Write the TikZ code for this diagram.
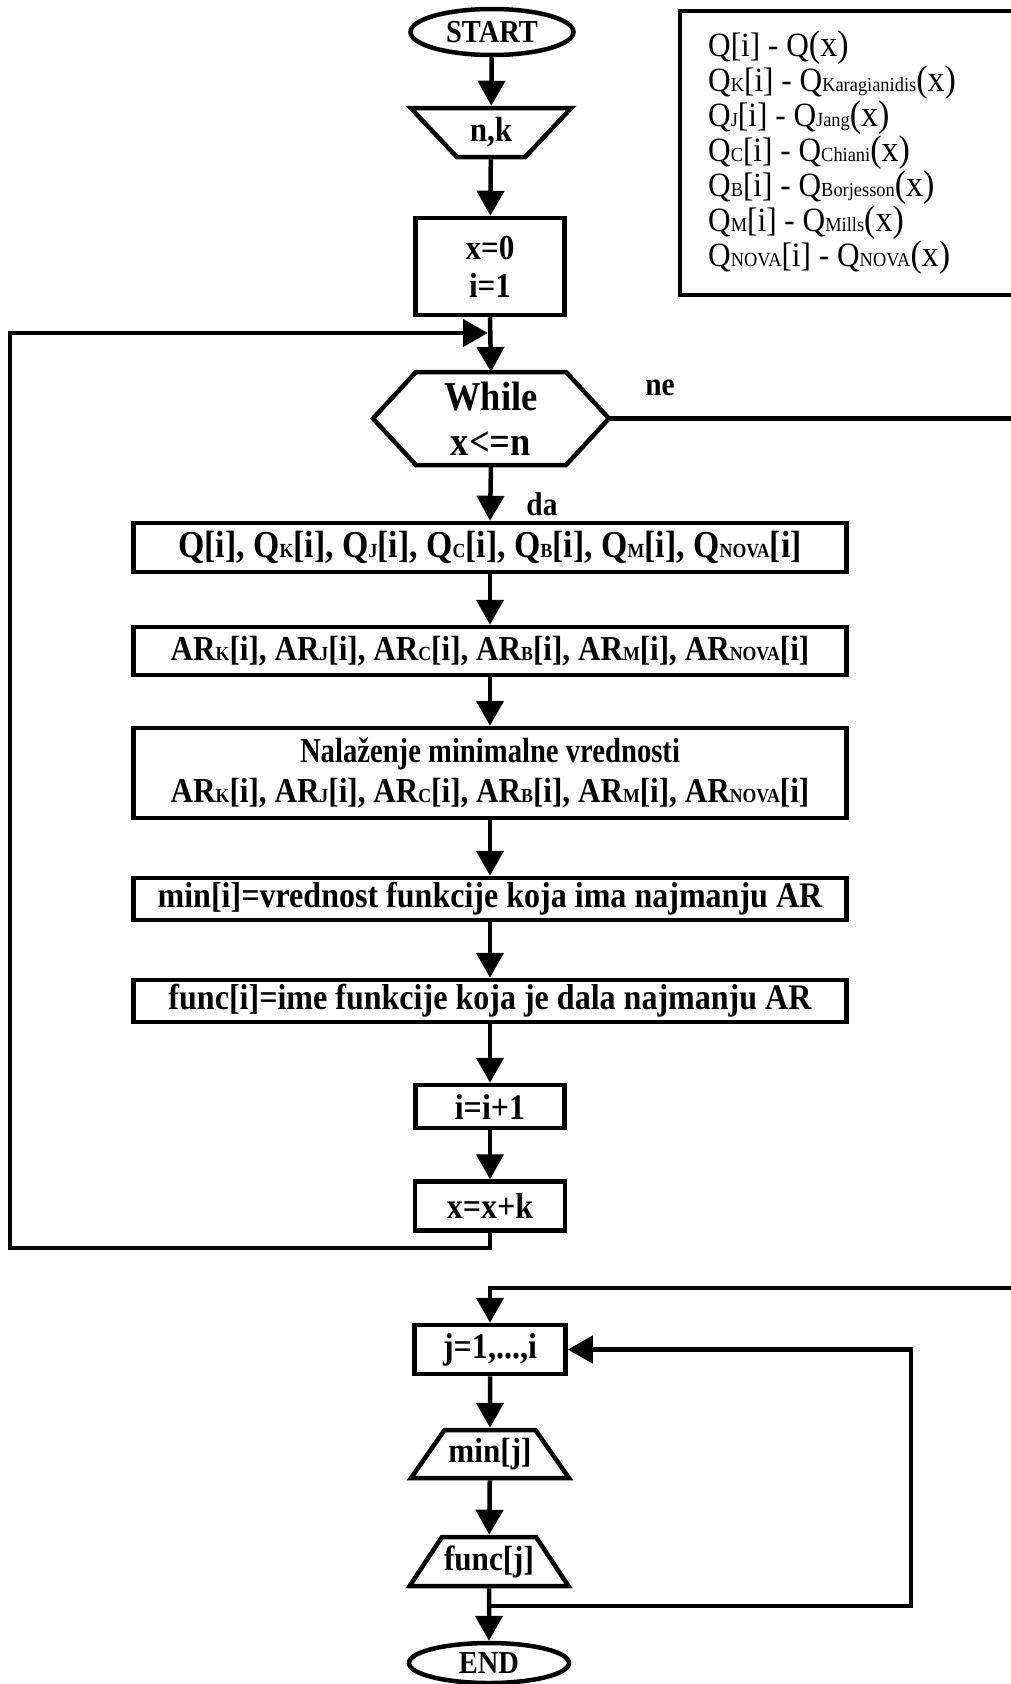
\documentclass[tikz,border=0pt]{standalone}
\usepackage{fontspec}
\usepackage{graphicx}
\setmainfont{Liberation Serif}[FakeStretch=0.89]
\newfontfamily\legfont{Liberation Serif}[FakeStretch=0.92]
\usetikzlibrary{arrows.meta,shapes.geometric}
\newcommand\fsz[1]{\fontsize{#1}{#1}\selectfont}
\newcommand\lo[1]{{\fontsize{20}{20}\selectfont #1}}
\newcommand\los[1]{{\fontsize{20}{20}\selectfont #1}}
\newcommand\lx{{\fontsize{37}{37}\selectfont (x)}}
\begin{document}
\begin{tikzpicture}[x=1pt,y=-1pt,
  lw/.style={line width=4.5pt},
  box/.style={draw,lw,rectangle,inner sep=0pt,align=center,font=\bfseries\fsz{36}},
  term/.style={draw,lw,ellipse,inner sep=0pt,font=\bfseries\fsz{32}},
  trap/.style={draw,lw,trapezium,trapezium stretches=true,trapezium angle=46,inner sep=0pt,font=\bfseries\fsz{35}},
  arr/.style={lw,-{Triangle[length=25pt,width=27pt]}},
  lbl/.style={inner sep=0pt,font=\bfseries\fsz{33}},
  leg/.style={inner sep=0pt,anchor=base west,font=\legfont\fsz{34}}]
\useasboundingbox (0,0) rectangle (1011,1684);
\clip (0,0) rectangle (1011,1684);

% legend
\draw[lw] (680,11) rectangle (1040,295);
\node[leg] (l1) at (708,56)  {Q[i] - Q\lx};
\node[leg] (l2) at (708,91)  {Q\los{K}[i] - Q\los{Karagianidis}\lx};
\node[leg] (l3) at (708,126) {Q\los{J}[i] - Q\los{Jang}\lx};
\node[leg] (l4) at (708,161) {Q\los{C}[i] - Q\los{Chiani}\lx};
\node[leg] (l5) at (708,196) {Q\los{B}[i] - Q\los{Borjesson}\lx};
\node[leg] (l6) at (708,231) {Q\los{M}[i] - Q\los{Mills}\lx};
\node[leg] (l7) at (708,266) {Q\los{NOVA}[i] - Q\los{NOVA}\lx};

% flowchart nodes
\node[term,minimum width=163pt,minimum height=46pt] (start) at (492,32) {START};
\node[trap,shape border rotate=180,minimum width=161pt,minimum height=49pt] (nk) at (491,132.5) {n,k};
\node[box,minimum width=149pt,minimum height=97pt,font=\bfseries\fontsize{35}{38}\selectfont] (init) at (490,266.5) {x=0\\i=1};
\node[inner sep=0pt,outer sep=0pt,minimum width=150pt,minimum height=93pt,align=center,font=\bfseries\fontsize{41}{45}\selectfont] (w) at (491,418.5) {While\\x<=n};
\draw[lw,line join=miter] (w.north west) -- (w.north east) -- ++(43,46.5) coordinate (wE) -- (w.south east) -- (w.south west) -- ++(-43,-46.5) -- cycle;
\node[lbl] (ne) at (660,388) {ne};
\node[lbl] (da) at (542,504) {da};
\node[box,minimum width=713pt,minimum height=49pt,font=\bfseries\fsz{38}] (q) at (490,547.5) {Q[i], Q\lo{K}[i], Q\lo{J}[i], Q\lo{C}[i], Q\lo{B}[i], Q\lo{M}[i], Q\lo{NOVA}[i]};
\node[box,minimum width=713pt,minimum height=48pt,font=\bfseries\fsz{35}] (ar) at (490,651) {AR\lo{K}[i], AR\lo{J}[i], AR\lo{C}[i], AR\lo{B}[i], AR\lo{M}[i], AR\lo{NOVA}[i]};
\node[box,minimum width=713pt,minimum height=90pt,font=\bfseries\fontsize{35}{40}\selectfont] (nal) at (490,773) {\scalebox{0.92}[1]{Nalaženje minimalne vrednosti}\\AR\lo{K}[i], AR\lo{J}[i], AR\lo{C}[i], AR\lo{B}[i], AR\lo{M}[i], AR\lo{NOVA}[i]};
\node[box,minimum width=713pt,minimum height=42pt] (mini) at (490,899) {min[i]=vrednost funkcije koja ima najmanju AR};
\node[box,minimum width=713pt,minimum height=42pt] (func) at (490,1001) {func[i]=ime funkcije koja je dala najmanju AR};
\node[box,minimum width=149pt,minimum height=43pt] (inc) at (490,1106.5) {i=i+1};
\node[box,minimum width=150pt,minimum height=49pt] (xk) at (490,1206) {x=x+k};
\node[box,minimum width=151pt,minimum height=49pt] (j) at (490,1349.5) {j=1,...,i};
\node[trap,minimum width=158pt,minimum height=48pt] (minj) at (490,1454) {min[j]};
\node[trap,minimum width=159pt,minimum height=49pt] (funcj) at (489,1561.5) {func[j]};
\node[term,minimum width=160pt,minimum height=40pt] (end) at (489,1663) {END};

% connectors
\coordinate (m) at (488,333);
\coordinate (br) at (489,1606);
\draw[arr] (start) -- (nk);
\draw[arr] (nk) -- (init);
\draw[arr] (init.south) -- (w.north);
\draw[arr] (w.south) -- (q.north);
\draw[arr] (q) -- (ar);
\draw[arr] (ar) -- (nal);
\draw[arr] (nal) -- (mini);
\draw[arr] (mini) -- (func);
\draw[arr] (func) -- (inc);
\draw[arr] (inc) -- (xk);
\draw[arr] (xk.south) -- (490,1248) -- (10,1248) -- (10,333) -- (m);
\draw[arr] (wE) -- (1013,418.5) -- (1013,1288) -- (490,1288) -- (j.north);
\draw[arr] (j) -- (minj);
\draw[arr] (minj) -- (funcj);
\draw[arr] (funcj.south) -- (end.north);
\draw[arr] (br) -- (911,1606) -- (911,1349.5) -- (j.east);
\end{tikzpicture}
\end{document}
